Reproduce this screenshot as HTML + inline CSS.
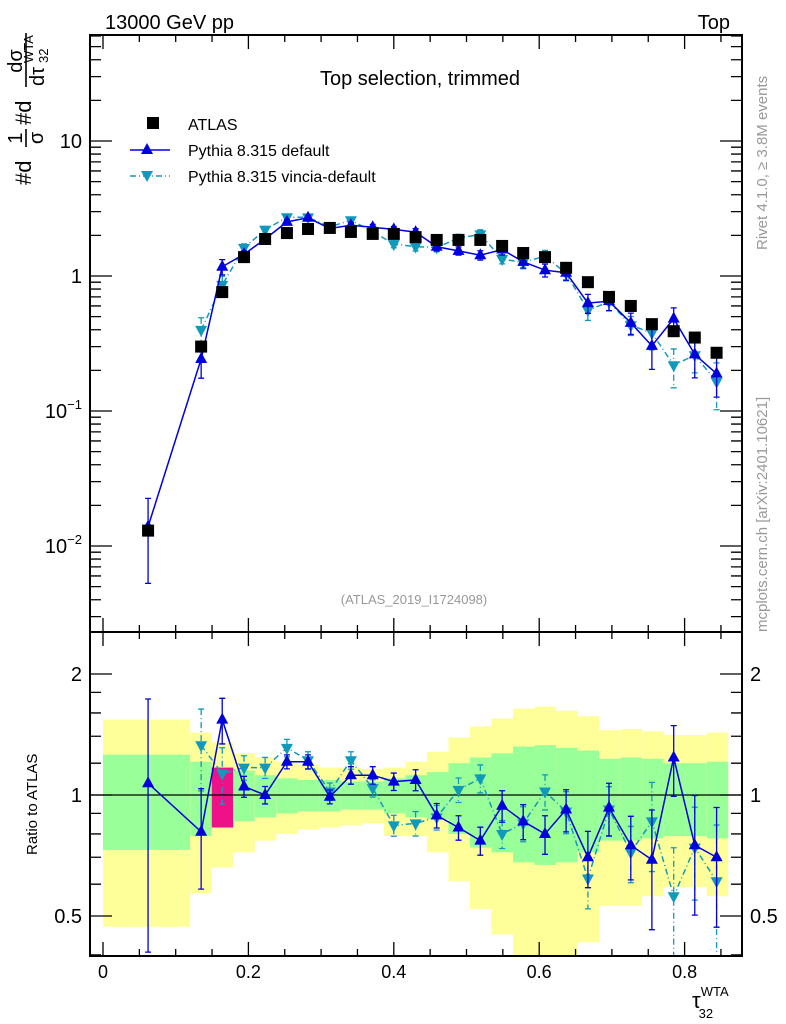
<!DOCTYPE html>
<html><head><meta charset="utf-8"><style>
body{margin:0;background:#fff;}
svg{display:block;font-family:"Liberation Sans",sans-serif;}
</style></head><body>
<svg id="c" width="786" height="1024" viewBox="0 0 786 1024" xmlns="http://www.w3.org/2000/svg">
<g id="bands"></g>
<g id="marks"></g>
<g id="axes"></g>
<text x="105" y="29" font-size="20">13000 GeV pp</text>
<text x="730" y="29" font-size="20" text-anchor="end">Top</text>
<text x="420" y="85" font-size="20" text-anchor="middle">Top selection, trimmed</text>
<text x="414" y="604" font-size="13" fill="#999" text-anchor="middle">(ATLAS_2019_I1724098)</text>
<text transform="translate(767,250) rotate(-90)" font-size="15" fill="#999">Rivet 4.1.0, ≥ 3.8M events</text>
<text transform="translate(767,632) rotate(-90)" font-size="15" fill="#999">mcplots.cern.ch [arXiv:2401.10621]</text>
<g transform="translate(31,185) rotate(-90)">
<text x="0" y="0" font-size="22">#d</text>
<text x="47" y="-9" font-size="20" text-anchor="middle">1</text>
<line x1="38" y1="-5" x2="56" y2="-5" stroke="#000" stroke-width="1.6"/>
<text x="47" y="12" font-size="20" text-anchor="middle">σ</text>
<text x="60" y="0" font-size="22">#d</text>
<text x="124" y="-9" font-size="20" text-anchor="middle">dσ</text>
<line x1="98" y1="-5" x2="152" y2="-5" stroke="#000" stroke-width="1.6"/>
<text x="99" y="13" font-size="20">dτ</text>
<text x="122" y="2" font-size="13">WTA</text>
<text x="122" y="17" font-size="13">32</text>
</g>
<text transform="translate(37,855) rotate(-90)" font-size="15">Ratio to ATLAS</text>
<text x="692" y="1008" font-size="22">τ<tspan font-size="13" dy="-12">WTA</tspan><tspan font-size="13" dx="-30" dy="22">32</tspan></text>
<g font-size="16">
<rect x="147" y="117" width="12" height="12" fill="#000"/>
<text x="188" y="130">ATLAS</text>
<line x1="130" y1="150" x2="170" y2="150" stroke="#0000dd" stroke-width="1.5"/>
<path d="M147,143 L153,154 L141,154Z" fill="#0000dd"/>
<text x="188" y="156">Pythia 8.315 default</text>
<line x1="130" y1="176" x2="170" y2="176" stroke="#1199bb" stroke-width="1.5" stroke-dasharray="6,3,1,3"/>
<path d="M141,171 L153,171 L147,182Z" fill="#1199bb"/>
<text x="188" y="182">Pythia 8.315 vincia-default</text>
</g>
</svg>
<script>
const binEdges=[0,0.12,0.1496,0.1792,0.2088,0.2384,0.268,0.2976,0.3272,0.3568,0.3864,0.416,0.4456,0.4752,0.5048,0.5344,0.564,0.5936,0.6232,0.6528,0.6824,0.712,0.7416,0.7712,0.8008,0.8304,0.86];
const pointX=[0.062,0.135,0.164,0.194,0.223,0.253,0.282,0.312,0.341,0.371,0.400,0.430,0.459,0.489,0.519,0.549,0.578,0.608,0.637,0.667,0.696,0.726,0.755,0.785,0.814,0.844];
const atlasVals=[0.013,0.30,0.76,1.38,1.88,2.08,2.23,2.27,2.12,2.05,2.05,1.94,1.85,1.85,1.85,1.67,1.48,1.38,1.15,0.90,0.70,0.60,0.44,0.39,0.35,0.27];
const defaultRatio=[1.07,0.81,1.54,1.05,1.00,1.21,1.21,0.99,1.12,1.12,1.08,1.09,0.89,0.83,0.77,0.94,0.86,0.80,0.92,0.70,0.93,0.75,0.69,1.24,0.75,0.70];
const defaultErr=[0.62,0.28,0.13,0.06,0.05,0.04,0.04,0.04,0.05,0.05,0.05,0.06,0.07,0.07,0.08,0.09,0.10,0.11,0.12,0.16,0.15,0.18,0.33,0.20,0.33,0.33];
const vinciaRatio=[null,1.33,1.13,1.17,1.17,1.31,1.22,1.02,1.22,1.04,0.84,0.85,0.88,1.03,1.10,0.80,0.85,1.02,0.91,0.62,0.92,0.72,0.86,0.56,0.74,0.61];
const vinciaErr=[null,0.23,0.16,0.07,0.06,0.05,0.05,0.05,0.05,0.05,0.06,0.07,0.07,0.07,0.08,0.08,0.10,0.10,0.12,0.16,0.14,0.16,0.25,0.32,0.26,0.38];
const yellowHi=[1.54,1.43,1.35,1.27,1.24,1.21,1.19,1.17,1.17,1.16,1.17,1.21,1.28,1.39,1.48,1.55,1.64,1.66,1.62,1.57,1.45,1.46,1.44,1.41,1.41,1.43];
const yellowLo=[0.47,0.57,0.66,0.72,0.77,0.80,0.82,0.83,0.84,0.85,0.79,0.79,0.72,0.61,0.52,0.45,0.38,0.38,0.38,0.43,0.53,0.53,0.56,0.59,0.59,0.56];
const greenHi=[1.26,1.21,1.17,1.15,1.12,1.10,1.09,1.09,1.08,1.08,1.10,1.12,1.14,1.20,1.24,1.27,1.32,1.33,1.31,1.29,1.23,1.24,1.23,1.20,1.20,1.21];
const greenLo=[0.73,0.79,0.83,0.86,0.88,0.90,0.91,0.91,0.92,0.92,0.90,0.88,0.87,0.80,0.74,0.72,0.68,0.67,0.68,0.72,0.77,0.77,0.78,0.79,0.79,0.78];
const xTicks=[0,0.2,0.4,0.6,0.8];
const xTickLabels=["0","0.2","0.4","0.6","0.8"];
const yDecades=[10,1,0.1,0.01];
const ratioTicks=[2,1,0.5];

const NS="http://www.w3.org/2000/svg";
const L=90,R=742,T=35,MID=632,B=956;
const X=v=>103+v*727;
const Y=v=>276-135*Math.log10(v);
const RY=r=>795-121*Math.log2(r);
function mk(tag,attrs,parent){const e=document.createElementNS(NS,tag);for(const k in attrs)e.setAttribute(k,attrs[k]);parent.appendChild(e);return e;}
const bands=document.getElementById('bands'),marks=document.getElementById('marks'),axes=document.getElementById('axes');
const clampR=r=>Math.min(Math.max(RY(r),MID),B);

for(let i=0;i<pointX.length;i++){
  const x0=X(binEdges[i]),x1=X(binEdges[i+1]);
  const y=mk('rect',{x:x0,y:clampR(yellowHi[i]),width:x1-x0,height:clampR(yellowLo[i])-clampR(yellowHi[i]),fill:'#ffff99'},bands);
  
  
  const g=mk('rect',{x:x0,y:clampR(greenHi[i]),width:x1-x0,height:clampR(greenLo[i])-clampR(greenHi[i]),fill:i==2?'#ee1188':'#99ff99'},bands);
  
  
}
const one=mk('line',{x1:L,x2:R,y1:RY(1),y2:RY(1),stroke:'#000','stroke-width':1.3},bands);



function series(vals,errs,color,dash,up,yfun,name,clip){
  const pts=[];
  for(let i=0;i<vals.length;i++){ if(vals[i]==null)continue;
    const x=X(pointX[i]);const lo=vals[i]*(1-errs[i]),hi=vals[i]*(1+errs[i]);
    let y=yfun(vals[i]),ya=yfun(hi),yb=yfun(Math.max(lo,1e-6));
    if(clip){ya=Math.max(ya,clip[0]);yb=Math.min(yb,clip[1]);}
    const e=mk('path',{d:`M${x},${ya}V${yb}M${x-3},${ya}h6M${x-3},${yb}h6`,stroke:color,'stroke-width':1.3,fill:'none','stroke-dasharray':dash},marks);
    
    
    pts.push([x,y,i]);
  }
  const l=mk('polyline',{points:pts.map(p=>p[0]+','+p[1]).join(' '),fill:'none',stroke:color,'stroke-width':1.5,'stroke-dasharray':dash},marks);
  
  
  for(const [x,y,i] of pts){
    const d=up?`M${x},${y-7}L${x+6},${y+4}L${x-6},${y+4}Z`:`M${x-6},${y-4}L${x+6},${y-4}L${x},${y+7}Z`;
    const m=mk('path',{d:d,fill:color},marks);
    
    
  }
}
const defTop=atlasVals.map((v,i)=>v*defaultRatio[i]);
const vinTop=atlasVals.map((v,i)=>vinciaRatio[i]==null?null:v*vinciaRatio[i]);
series(vinTop,vinciaErr,'#1199bb','6,3,1,3',false,Y,'vincia-top',[T,MID]);
series(defTop,defaultErr,'#0000dd','',true,Y,'default-top',[T,MID]);
for(let i=0;i<atlasVals.length;i++){
  const s=mk('rect',{x:X(pointX[i])-6,y:Y(atlasVals[i])-6,width:12,height:12,fill:'#000'},marks);
  
  
}
series(vinciaRatio,vinciaErr,'#1199bb','6,3,1,3',false,RY,'vincia-ratio',[MID,B]);
series(defaultRatio,defaultErr,'#0000dd','',true,RY,'default-ratio',[MID,B]);

for(const [y0,y1,n] of [[T,MID,'main-frame'],[MID,B,'ratio-frame']]){
  const f=mk('rect',{x:L,y:y0,width:R-L,height:y1-y0,fill:'none',stroke:'#000','stroke-width':2},axes);
  
  
}
let xt='';
for(let k=0;k<=17;k++){const v=k*0.05;const x=X(v);const major=k%4==0;const len=major?14:7;
  for(const y of [MID,B]) xt+=`M${x},${y}v${-len}`;
  for(const y of [T,MID]) xt+=`M${x},${y}v${len}`;}
const xtp=mk('path',{d:xt,stroke:'#000','stroke-width':1.3},axes);


xTicks.forEach((v,i)=>{const t=mk('text',{x:X(v),y:978,'font-size':18,'text-anchor':'middle'},axes);t.textContent=xTickLabels[i];
  
  });
let yt='';
for(let d=-3;d<=1;d++)for(let k=1;k<=9;k++){const v=k*Math.pow(10,d);const y=Y(v);if(y<T||y>MID)continue;const len=k==1?22:11;yt+=`M${L},${y}h${len}M${R},${y}h${-len}`;}
const ytp=mk('path',{d:yt,stroke:'#000','stroke-width':1.3},axes);


yDecades.forEach((v,i)=>{const t=mk('text',{x:82,y:Y(v)+7,'font-size':20,'text-anchor':'end'},axes);
  const e=Math.round(Math.log10(v));
  if(e==1)t.textContent='10';else if(e==0)t.textContent='1';else{t.textContent='10';const s=document.createElementNS(NS,'tspan');s.setAttribute('font-size','13');s.setAttribute('dy','-9');s.textContent=e==-1?'−1':'−2';t.appendChild(s);}
  
  });
let rt='';
for(const r of [0.4,0.5,0.6,0.7,0.8,0.9,1,2]){const y=RY(r);if(y<MID||y>B)continue;const len=(r==1||r==2||r==0.5)?22:11;rt+=`M${L},${y}h${len}M${R},${y}h${-len}`;}
for(const r of [1.2,1.4,1.6,1.8]){const y=RY(r);rt+=`M${L},${y}h11M${R},${y}h-11`;}
const rtp=mk('path',{d:rt,stroke:'#000','stroke-width':1.3},axes);


ratioTicks.forEach((r,i)=>{
  const t=mk('text',{x:82,y:RY(r)+7,'font-size':20,'text-anchor':'end'},axes);t.textContent=String(r);
  
  
  const t2=mk('text',{x:750,y:RY(r)+7,'font-size':20},axes);t2.textContent=String(r);
  
  
});
</script>
</body></html>
